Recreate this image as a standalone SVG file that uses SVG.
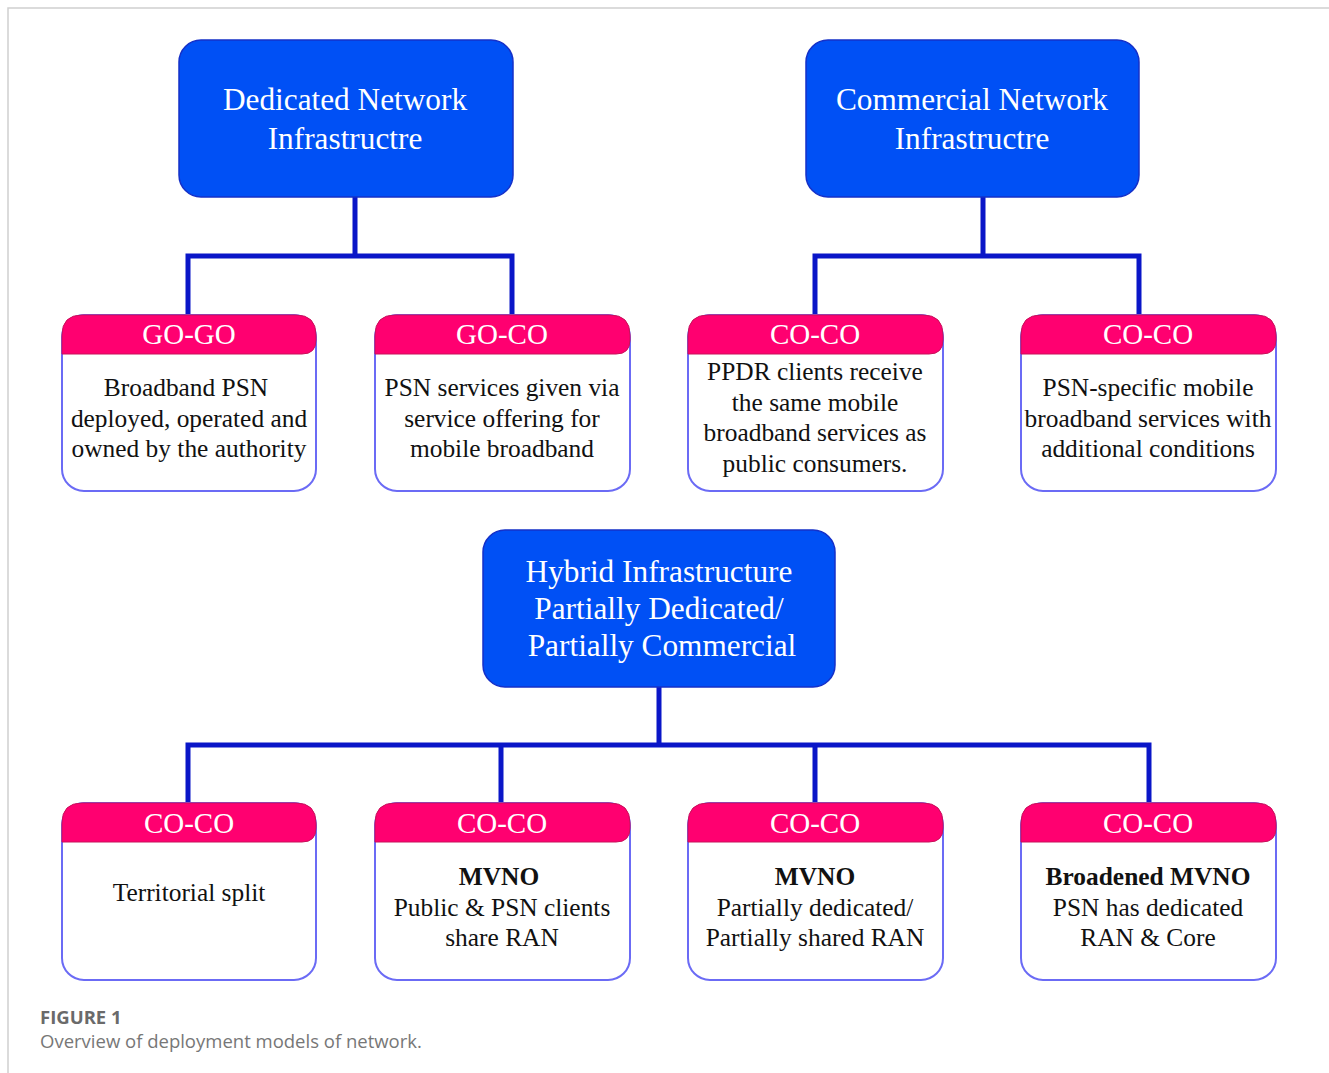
<svg xmlns="http://www.w3.org/2000/svg" width="1329" height="1073" viewBox="0 0 1329 1073">
<style>
.top{fill:#0050F5;stroke:#1530C8;stroke-width:1.5}
.tt{font-family:"Liberation Serif",serif;font-size:31.3px;fill:#fff;text-anchor:middle}
.body{fill:#fff;stroke:#6B6BF5;stroke-width:2}
.hdr{fill:#FF0070;stroke:#C8105A;stroke-width:1}
.ht{font-family:"Liberation Serif",serif;font-size:29px;fill:#fff;text-anchor:middle}
.bt{font-family:"Liberation Serif",serif;font-size:25.4px;fill:#111;text-anchor:middle}
.b{font-weight:bold}
.conn{fill:none;stroke:#0A16C8;stroke-width:5}
.cap1{font-family:"Open Sans","Noto Sans",sans-serif;font-size:18.5px;font-weight:bold;fill:#6a6a6a}
.cap2{font-family:"Open Sans","Noto Sans",sans-serif;font-size:18.5px;fill:#777}
</style>
<rect x="0" y="0" width="1329" height="1073" fill="#fff"/>
<path d="M8 1073 V8 H1329" fill="none" stroke="#d0d0d0" stroke-width="1.5"/>
<g id="connectors">
<path class="conn" d="M355 197 V256 M188 317 V256 H512 V317"/>
<path class="conn" d="M983 197 V256 M815 317 V256 H1139 V317"/>
<path class="conn" d="M659 687 V745 M188 805 V745 H1149 V805 M501 745 V805 M815 745 V805"/>
</g>
<g id="dedicated">
<rect class="top" x="179" y="40" width="334" height="157" rx="22"/>
<text class="tt" x="345" y="110">Dedicated Network</text>
<text class="tt" x="345" y="149">Infrastructre</text>
</g>
<g id="commercial">
<rect class="top" x="806" y="40" width="333" height="157" rx="22"/>
<text class="tt" x="972" y="110">Commercial Network</text>
<text class="tt" x="972" y="149">Infrastructre</text>
</g>
<g id="hybrid">
<rect class="top" x="483" y="530" width="352" height="157" rx="22"/>
<text class="tt" x="659" y="582">Hybrid Infrastructure</text>
<text class="tt" x="659" y="619">Partially Dedicated/</text>
<text class="tt" x="662" y="656">Partially Commercial</text>
</g>
<g id="go-go">
<rect class="body" x="62" y="315" width="254" height="176" rx="22"/>
<path class="hdr" d="M62 354 V335 Q62 315 82 315 H296 Q316 315 316 335 V340 Q316 354 302 354 Z"/>
<text class="ht" x="189" y="344">GO-GO</text>
<text class="bt" x="186" y="396">Broadband PSN</text>
<text class="bt" x="189" y="427">deployed, operated and</text>
<text class="bt" x="189" y="457">owned by the authority</text>
</g>
<g id="go-co">
<rect class="body" x="375" y="315" width="255" height="176" rx="22"/>
<path class="hdr" d="M375 354 V335 Q375 315 395 315 H610 Q630 315 630 335 V340 Q630 354 616 354 Z"/>
<text class="ht" x="502" y="344">GO-CO</text>
<text class="bt" x="502" y="396">PSN services given via</text>
<text class="bt" x="502" y="427">service offering for</text>
<text class="bt" x="502" y="457">mobile broadband</text>
</g>
<g id="co-co-1">
<rect class="body" x="688" y="315" width="255" height="176" rx="22"/>
<path class="hdr" d="M688 354 V335 Q688 315 708 315 H923 Q943 315 943 335 V340 Q943 354 929 354 Z"/>
<text class="ht" x="815" y="344">CO-CO</text>
<text class="bt" x="815" y="380">PPDR clients receive</text>
<text class="bt" x="815" y="411">the same mobile</text>
<text class="bt" x="815" y="441">broadband services as</text>
<text class="bt" x="815" y="472">public consumers.</text>
</g>
<g id="co-co-2">
<rect class="body" x="1021" y="315" width="255" height="176" rx="22"/>
<path class="hdr" d="M1021 354 V335 Q1021 315 1041 315 H1256 Q1276 315 1276 335 V340 Q1276 354 1262 354 Z"/>
<text class="ht" x="1148" y="344">CO-CO</text>
<text class="bt" x="1148" y="396">PSN-specific mobile</text>
<text class="bt" x="1148" y="427">broadband services with</text>
<text class="bt" x="1148" y="457">additional conditions</text>
</g>
<g id="territorial">
<rect class="body" x="62" y="803" width="254" height="177" rx="22"/>
<path class="hdr" d="M62 842 V823 Q62 803 82 803 H296 Q316 803 316 823 V828 Q316 842 302 842 Z"/>
<text class="ht" x="189" y="833">CO-CO</text>
<text class="bt" x="189" y="901">Territorial split</text>
</g>
<g id="mvno-1">
<rect class="body" x="375" y="803" width="255" height="177" rx="22"/>
<path class="hdr" d="M375 842 V823 Q375 803 395 803 H610 Q630 803 630 823 V828 Q630 842 616 842 Z"/>
<text class="ht" x="502" y="833">CO-CO</text>
<text class="bt b" x="499" y="885">MVNO</text>
<text class="bt" x="502" y="916">Public &amp; PSN clients</text>
<text class="bt" x="502" y="946">share RAN</text>
</g>
<g id="mvno-2">
<rect class="body" x="688" y="803" width="255" height="177" rx="22"/>
<path class="hdr" d="M688 842 V823 Q688 803 708 803 H923 Q943 803 943 823 V828 Q943 842 929 842 Z"/>
<text class="ht" x="815" y="833">CO-CO</text>
<text class="bt b" x="815" y="885">MVNO</text>
<text class="bt" x="815" y="916">Partially dedicated/</text>
<text class="bt" x="815" y="946">Partially shared RAN</text>
</g>
<g id="broadened-mvno">
<rect class="body" x="1021" y="803" width="255" height="177" rx="22"/>
<path class="hdr" d="M1021 842 V823 Q1021 803 1041 803 H1256 Q1276 803 1276 823 V828 Q1276 842 1262 842 Z"/>
<text class="ht" x="1148" y="833">CO-CO</text>
<text class="bt b" x="1148" y="885">Broadened MVNO</text>
<text class="bt" x="1148" y="916">PSN has dedicated</text>
<text class="bt" x="1148" y="946">RAN &amp; Core</text>
</g>
<text class="cap1" x="40" y="1024">FIGURE 1</text>
<text class="cap2" x="40" y="1048">Overview of deployment models of network.</text>
</svg>
